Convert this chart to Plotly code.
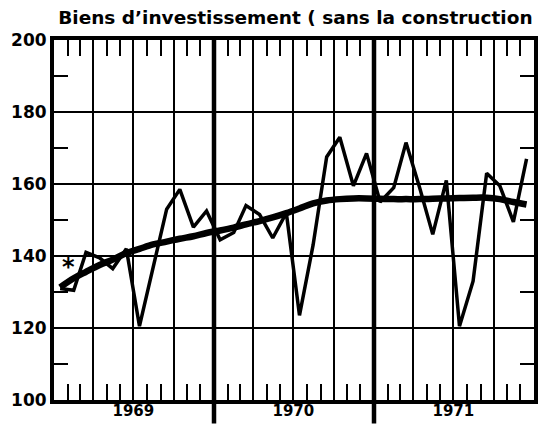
import pandas as pd
import plotly.graph_objects as go

# monthly index, Jan 1969 - Dec 1971 (points plotted mid-month)
months = pd.date_range("1969-01-01", periods=36, freq="MS") + pd.Timedelta(days=14)

# raw monthly index
raw = [131, 130.5, 141, 139.5, 136.5, 142, 120.5, 137, 153, 158.5, 148, 152.5,
       144.5, 146.5, 154, 151.5, 145, 152, 123.5, 143, 167.5, 173, 159.5, 168.5,
       155, 159, 171.5, 159, 146, 161, 120.5, 133, 163, 159.5, 149.5, 167]

# smoothed trend
trend = [131.3, 133.8, 135.6, 137.5, 139, 140.8, 142, 143.2, 144, 144.8, 145.5, 146.4,
         147.1, 147.9, 148.8, 149.7, 150.7, 151.9, 153.2, 154.6, 155.4, 155.8, 156, 156,
         155.9, 155.8, 155.8, 155.8, 155.9, 156, 156.1, 156.2, 156.2, 155.8, 155, 154.3]

year_labels = ["1969", "1970", "1971"]
year_mid = ["1969-07-01", "1970-07-01", "1971-07-01"]
year_starts = ["1970-01-01", "1971-01-01"]

x_range = ["1969-01-01", "1972-01-01"]
title = "Biens d’investissement ( sans la construction"

fig = go.Figure()
fig.add_trace(go.Scatter(x=months, y=raw, mode="lines",
                         line=dict(color="black", width=3.5), showlegend=False))
fig.add_trace(go.Scatter(x=months, y=trend, mode="lines",
                         line=dict(color="black", width=6.5, shape="spline"), showlegend=False))
# invisible trace so the label axis is drawn
fig.add_trace(go.Scatter(x=[months[0]], y=[trend[0]], xaxis="x2", mode="markers",
                         marker=dict(opacity=0), showlegend=False, hoverinfo="skip"))

# thick year separators, running below the frame
for d in year_starts:
    fig.add_shape(type="line", xref="x", yref="paper", x0=d, x1=d, y0=-0.065, y1=1,
                  line=dict(color="black", width=4.5))

fig.add_annotation(x="1969-02-02", y=137, text="<b>*</b>", showarrow=False,
                   font=dict(size=24, color="black", family="DejaVu Sans"))

fig.update_layout(
    width=542, height=424,
    margin=dict(l=54, r=4, t=40, b=24),
    paper_bgcolor="white", plot_bgcolor="white",
    font=dict(family="DejaVu Sans", color="black"),
    title=dict(text=title, x=0.545, xanchor="center", y=0.958, yanchor="middle",
               font=dict(size=18.5, family="DejaVu Sans", weight="bold", color="black")),
    xaxis=dict(
        type="date", range=x_range, tick0="1969-01-01", dtick="M3",
        showgrid=True, gridcolor="black", gridwidth=2,
        showticklabels=False, ticks="inside", ticklen=16, tickwidth=2, tickcolor="black",
        minor=dict(dtick="M1", ticks="inside", ticklen=16, tickwidth=2, tickcolor="black"),
        showline=True, linecolor="black", linewidth=4, mirror="allticks", zeroline=False,
    ),
    xaxis2=dict(
        type="date", range=x_range, overlaying="x", side="bottom", anchor="y",
        tickvals=year_mid, ticktext=year_labels, showgrid=False, ticks="",
        tickfont=dict(size=15, family="DejaVu Sans", weight="bold"),
        showline=False, zeroline=False,
    ),
    yaxis=dict(
        range=[100, 200], tick0=100, dtick=20,
        showgrid=True, gridcolor="black", gridwidth=2,
        ticks="", tickfont=dict(size=17, family="DejaVu Sans", weight="bold"),
        minor=dict(tick0=110, dtick=20, ticks="inside", ticklen=14, tickwidth=2, tickcolor="black"),
        showline=True, linecolor="black", linewidth=4, mirror="allticks", zeroline=False,
    ),
)

fig.write_html("out.html", config={"displayModeBar": False},
               post_script="document.body.style.margin='0';")
